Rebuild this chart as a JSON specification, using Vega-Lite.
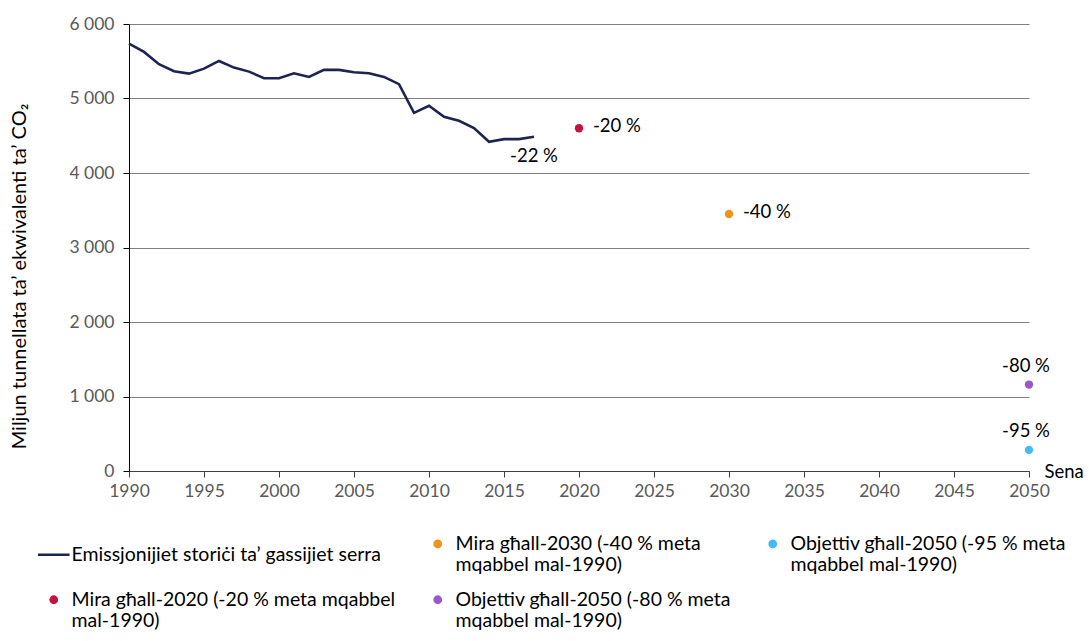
{
  "$schema": "https://vega.github.io/schema/vega-lite/v6.json",
  "autosize": "none",
  "width": 900,
  "height": 447,
  "padding": {"left": 129, "top": 24, "right": 60, "bottom": 170},
  "background": "white",
  "config": {
    "font": "Lato",
    "view": {"stroke": null},
    "axis": {"labelFont": "Lato", "titleFont": "Lato", "labelFontSize": 17.5, "titleFontSize": 20, "labelColor": "#595959", "titleColor": "#000000", "titleFontWeight": "normal"},
    "legend": {"labelFont": "Lato", "labelFontSize": 19.5, "labelColor": "#000000"}
  },
  "datasets": {
    "hist": [
      {"year": 1990, "value": 5736, "series": "Emissjonijiet storiċi ta’ gassijiet serra"},
      {"year": 1991, "value": 5625, "series": "Emissjonijiet storiċi ta’ gassijiet serra"},
      {"year": 1992, "value": 5460, "series": "Emissjonijiet storiċi ta’ gassijiet serra"},
      {"year": 1993, "value": 5366, "series": "Emissjonijiet storiċi ta’ gassijiet serra"},
      {"year": 1994, "value": 5334, "series": "Emissjonijiet storiċi ta’ gassijiet serra"},
      {"year": 1995, "value": 5401, "series": "Emissjonijiet storiċi ta’ gassijiet serra"},
      {"year": 1996, "value": 5504, "series": "Emissjonijiet storiċi ta’ gassijiet serra"},
      {"year": 1997, "value": 5415, "series": "Emissjonijiet storiċi ta’ gassijiet serra"},
      {"year": 1998, "value": 5361, "series": "Emissjonijiet storiċi ta’ gassijiet serra"},
      {"year": 1999, "value": 5272, "series": "Emissjonijiet storiċi ta’ gassijiet serra"},
      {"year": 2000, "value": 5272, "series": "Emissjonijiet storiċi ta’ gassijiet serra"},
      {"year": 2001, "value": 5339, "series": "Emissjonijiet storiċi ta’ gassijiet serra"},
      {"year": 2002, "value": 5290, "series": "Emissjonijiet storiċi ta’ gassijiet serra"},
      {"year": 2003, "value": 5384, "series": "Emissjonijiet storiċi ta’ gassijiet serra"},
      {"year": 2004, "value": 5384, "series": "Emissjonijiet storiċi ta’ gassijiet serra"},
      {"year": 2005, "value": 5353, "series": "Emissjonijiet storiċi ta’ gassijiet serra"},
      {"year": 2006, "value": 5339, "series": "Emissjonijiet storiċi ta’ gassijiet serra"},
      {"year": 2007, "value": 5290, "series": "Emissjonijiet storiċi ta’ gassijiet serra"},
      {"year": 2008, "value": 5192, "series": "Emissjonijiet storiċi ta’ gassijiet serra"},
      {"year": 2009, "value": 4808, "series": "Emissjonijiet storiċi ta’ gassijiet serra"},
      {"year": 2010, "value": 4902, "series": "Emissjonijiet storiċi ta’ gassijiet serra"},
      {"year": 2011, "value": 4754, "series": "Emissjonijiet storiċi ta’ gassijiet serra"},
      {"year": 2012, "value": 4701, "series": "Emissjonijiet storiċi ta’ gassijiet serra"},
      {"year": 2013, "value": 4603, "series": "Emissjonijiet storiċi ta’ gassijiet serra"},
      {"year": 2014, "value": 4419, "series": "Emissjonijiet storiċi ta’ gassijiet serra"},
      {"year": 2015, "value": 4455, "series": "Emissjonijiet storiċi ta’ gassijiet serra"},
      {"year": 2016, "value": 4455, "series": "Emissjonijiet storiċi ta’ gassijiet serra"},
      {"year": 2017, "value": 4486, "series": "Emissjonijiet storiċi ta’ gassijiet serra"}
    ],
    "targets": [
      {"year": 2020, "value": 4600, "series": "Mira għall-2020 (-20 % meta mqabbel|mal-1990)", "label": "-20 %", "pos": "right"},
      {"year": 2030, "value": 3450, "series": "Mira għall-2030 (-40 % meta|mqabbel mal-1990)", "label": "-40 %", "pos": "right"},
      {"year": 2050, "value": 1160, "series": "Objettiv għall-2050 (-80 % meta|mqabbel mal-1990)", "label": "-80 %", "pos": "above"},
      {"year": 2050, "value": 283, "series": "Objettiv għall-2050 (-95 % meta|mqabbel mal-1990)", "label": "-95 %", "pos": "above"}
    ],
    "endlabel": [
      {"year": 2017, "value": 4486, "label": "-22 %"}
    ]
  },
  "encoding": {
    "x": {
      "field": "year", "type": "quantitative",
      "scale": {"domain": [1990, 2050], "nice": false, "zero": false},
      "axis": {"title": "Sena", "values": [1990,1995,2000,2005,2010,2015,2020,2025,2030,2035,2040,2045,2050], "format": "d", "grid": false, "labelFlush": false, "labelOverlap": false, "domainColor": "#404040", "tickColor": "#404040", "tickSize": 6, "labelPadding": 5, "titleFontSize": 18.5, "titleX": 915, "titleY": 0, "titleAlign": "left", "titleBaseline": "middle", "titleAnchor": null}
    },
    "y": {
      "field": "value", "type": "quantitative",
      "scale": {"domain": [0, 6000], "nice": false},
      "axis": {"title": "Miljun tunnellata ta’ ekwivalenti ta’ CO₂", "values": [0,1000,2000,3000,4000,5000,6000], "labelExpr": "replace(format(datum.value, ','), ',', ' ')", "labelFlush": false, "grid": true, "gridColor": "#7f7f7f", "gridWidth": 1, "domainColor": "#000000", "tickColor": "#000000", "tickSize": 6, "labelPadding": 9, "titlePadding": 39, "titleY": 252}
    }
  },
  "layer": [
    {
      "data": {"name": "hist"},
      "mark": {"type": "line", "strokeWidth": 2.6},
      "encoding": {
        "color": {"field": "series", "type": "nominal"}
      }
    },
    {
      "data": {"name": "targets"},
      "mark": {"type": "point", "filled": true, "size": 70, "opacity": 1},
      "encoding": {
        "color": {
          "field": "series", "type": "nominal",
          "scale": {
            "domain": ["Emissjonijiet storiċi ta’ gassijiet serra", "Mira għall-2030 (-40 % meta|mqabbel mal-1990)", "Objettiv għall-2050 (-95 % meta|mqabbel mal-1990)", "Mira għall-2020 (-20 % meta mqabbel|mal-1990)", "Objettiv għall-2050 (-80 % meta|mqabbel mal-1990)"],
            "range": ["#1e2452", "#f2931c", "#41bdf0", "#c8103e", "#9b57cc"]
          },
          "legend": {
            "title": null, "orient": "none", "legendX": -85, "legendY": 510, "columns": 3, "direction": "horizontal",
            "labelExpr": "split(datum.label, '|')", "labelLimit": 450, "columnPadding": 32, "rowPadding": 14,
            "symbolSize": 40, "symbolStrokeWidth": 2.5, "labelOffset": 8, "labelBaseline": "middle",
            "encode": {
              "labels": {
                "update": {
                  "lineHeight": {"value": 25},
                  "dy": {"signal": "indexof(datum.label, '|') >= 0 ? -9 : 0"}
                }
              }
            }
          }
        },
        "shape": {
          "field": "series", "type": "nominal",
          "scale": {
            "domain": ["Emissjonijiet storiċi ta’ gassijiet serra", "Mira għall-2030 (-40 % meta|mqabbel mal-1990)", "Objettiv għall-2050 (-95 % meta|mqabbel mal-1990)", "Mira għall-2020 (-20 % meta mqabbel|mal-1990)", "Objettiv għall-2050 (-80 % meta|mqabbel mal-1990)"],
            "range": ["M-5,0L5,0", "circle", "circle", "circle", "circle"]
          }
        }
      }
    },
    {
      "data": {"name": "targets"},
      "transform": [{"filter": "datum.pos == 'right'"}],
      "mark": {"type": "text", "align": "left", "baseline": "middle", "dx": 14, "dy": -2, "fontSize": 18.5, "color": "#000000"},
      "encoding": {"text": {"field": "label"}}
    },
    {
      "data": {"name": "targets"},
      "transform": [{"filter": "datum.pos == 'above'"}],
      "mark": {"type": "text", "align": "center", "baseline": "bottom", "dx": -3, "dy": -9, "fontSize": 18.5, "color": "#000000"},
      "encoding": {"text": {"field": "label"}}
    },
    {
      "data": {"name": "endlabel"},
      "mark": {"type": "text", "align": "center", "baseline": "top", "dy": 10, "fontSize": 18.5, "color": "#000000"},
      "encoding": {"text": {"field": "label"}}
    }
  ]
}
